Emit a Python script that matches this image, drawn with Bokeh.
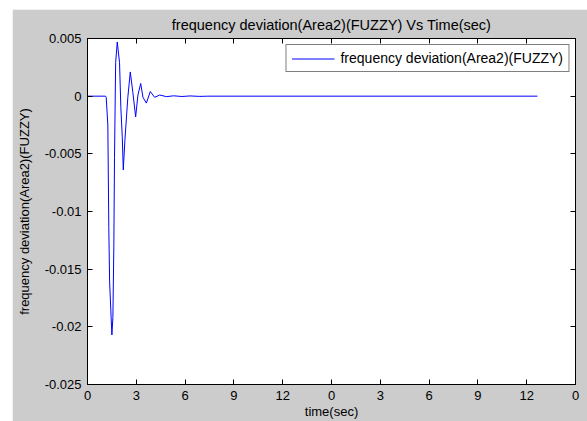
from bokeh.plotting import figure
from bokeh.models import FixedTicker, LinearAxis, Range1d, Legend, LegendItem
from bokeh.embed import file_html
from bokeh.resources import INLINE

# data
time_sec = [0, 1.11, 1.15, 1.25, 1.31, 1.36, 1.46, 1.50, 1.56, 1.62, 1.66, 1.73, 1.83,
            1.97, 2.05, 2.14, 2.20, 2.30, 2.48, 2.63, 2.79, 2.96, 3.10, 3.27, 3.41,
            3.62, 3.86, 4.13, 4.44, 4.85, 5.3, 5.8, 6.3, 6.9, 7.4, 27.66]
freq_dev = [0, 0, -0.0001, -0.0025, -0.0114, -0.0161, -0.0194, -0.0207, -0.0192,
            -0.0129, -0.0053, 0.0029, 0.0047, 0.0029, -0.0010, -0.0036, -0.0064,
            -0.0038, -0.0001, 0.0021, 0.0003, -0.0018, 0.0001, 0.0011, -0.0001,
            -0.0006, 0.0004, -0.0001, 0.0001, -0.00004, 0.00003, -0.00003, 0.00002,
            -0.00002, 0, 0]
x_ticks = [0, 3, 6, 9, 12, 15, 18, 21, 24, 27, 30]
x_tick_labels = ["0", "3", "6", "9", "12", "0", "3", "6", "9", "12", "0"]
y_ticks = [-0.025, -0.02, -0.015, -0.01, -0.005, 0, 0.005]
y_tick_labels = ["-0.025", "-0.02", "-0.015", "-0.01", "-0.005", "0", "0.005"]

FONT = "Liberation Sans"
GRAY = "#cccccc"

p = figure(width=575, height=412, margin=(9, 0, 0, 12), output_backend="svg",
           toolbar_location=None, x_range=Range1d(0, 30), y_range=Range1d(-0.025, 0.005),
           min_border_left=75, min_border_right=12, min_border_top=29, min_border_bottom=37,
           title="frequency deviation(Area2)(FUZZY) Vs Time(sec)")
p.background_fill_color = "white"
p.border_fill_color = GRAY
p.outline_line_color = "black"
p.outline_line_width = 1
p.grid.visible = False

p.title.align = "center"
p.title.text_font = FONT
p.title.text_font_style = "normal"
p.title.text_font_size = "14.5px"
p.title.text_color = "black"
p.title.offset = 0
p.title.standoff = 11

r = p.line(time_sec, freq_dev, line_color="#0000ff", line_width=1)

xa = p.xaxis[0]
xa.ticker = FixedTicker(ticks=x_ticks)
xa.major_label_overrides = {t: l for t, l in zip(x_ticks, x_tick_labels)}
xa.axis_label = "time(sec)"
xa.axis_label_standoff = 1
ya = p.yaxis[0]
ya.ticker = FixedTicker(ticks=y_ticks)
ya.major_label_overrides = {t: l for t, l in zip(y_ticks, y_tick_labels)}
ya.axis_label = "frequency deviation(Area2)(FUZZY)"
ya.axis_label_standoff = 10

for ax in (xa, ya):
    ax.major_tick_in = 5
    ax.major_tick_out = 0
    ax.minor_tick_in = 0
    ax.minor_tick_out = 0
    ax.axis_line_color = "black"
    ax.major_tick_line_color = "black"
    ax.major_label_text_font = FONT
    ax.major_label_text_font_size = "13px"
    ax.major_label_text_color = "black"
    ax.major_label_standoff = 6
    ax.axis_label_text_font = FONT
    ax.axis_label_text_font_size = "13px"
    ax.axis_label_text_font_style = "normal"
    ax.axis_label_text_color = "black"

top = LinearAxis(ticker=FixedTicker(ticks=x_ticks),
                 major_label_overrides={t: "" for t in x_ticks},
                 major_tick_in=5, major_tick_out=0, minor_tick_in=0, minor_tick_out=0,
                 major_label_standoff=0)
right = LinearAxis(ticker=FixedTicker(ticks=y_ticks),
                   major_label_overrides={t: "" for t in y_ticks},
                   major_tick_in=5, major_tick_out=0, minor_tick_in=0, minor_tick_out=0,
                   major_label_standoff=0)
p.add_layout(top, "above")
p.add_layout(right, "right")

legend = Legend(items=[LegendItem(label="frequency deviation(Area2)(FUZZY)", renderers=[r])],
                location="top_right")
legend.border_line_color = "black"
legend.border_line_width = 1
legend.background_fill_color = "white"
legend.background_fill_alpha = 1
legend.label_text_font = FONT
legend.label_text_font_size = "14px"
legend.label_text_color = "black"
legend.glyph_width = 43
legend.glyph_height = 15
legend.label_height = 15
legend.label_standoff = 6
legend.padding = 5
legend.spacing = 0
legend.margin = 6
p.add_layout(legend, "center")

open("out.html", "w").write(file_html(p, INLINE))
